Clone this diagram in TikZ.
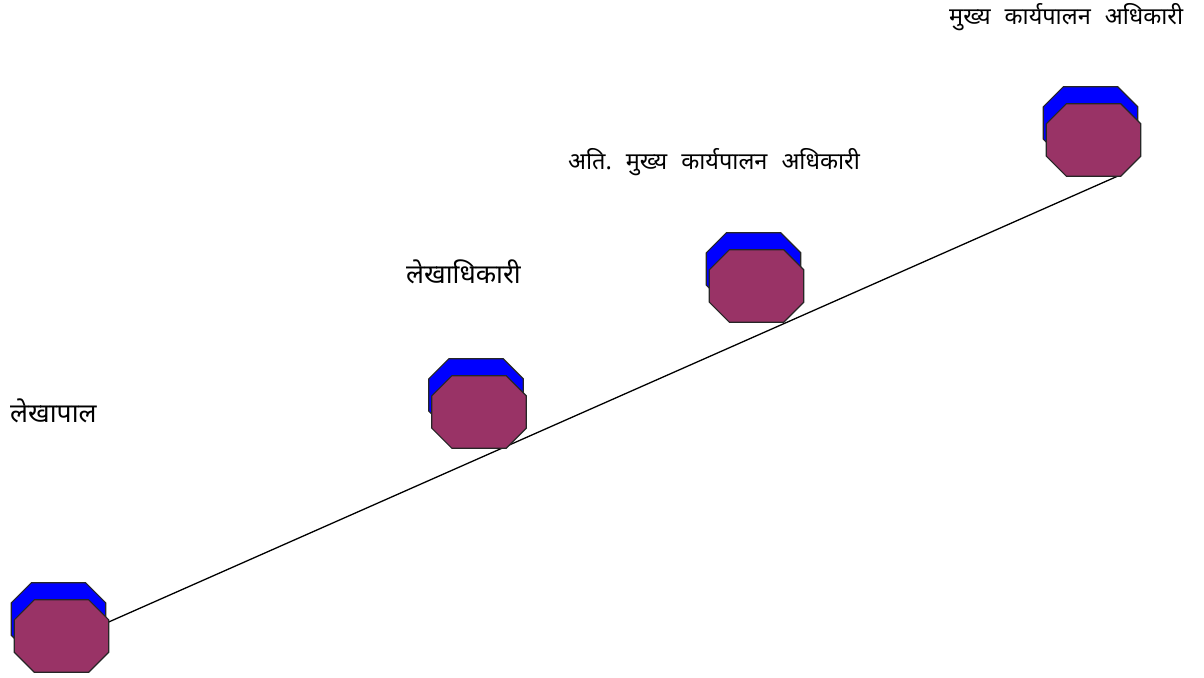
\documentclass[tikz,border=0pt]{standalone}
\usepackage{fontspec}
\newfontfamily\devfont[Script=Devanagari]{Noto Sans}
\usepackage{xcolor}
\usetikzlibrary{positioning}
\definecolor{octblue}{RGB}{0,0,255}
\definecolor{octred}{RGB}{153,51,102}
\newcommand{\gap}{\hspace{14pt}}

\begin{document}
\begin{tikzpicture}[
  x=1pt, y=-1pt,
  font=\devfont\fontsize{26.5}{30}\selectfont,
  oct/.style={minimum width=94pt, minimum height=72pt, inner sep=0pt},
  post/.style={anchor=base west, inner sep=0pt},
  longpost/.style={post, font=\devfont\fontsize{23.5}{28}\selectfont}
]
\useasboundingbox (0,0) rectangle (1204,677);

% the four steps, blue copy behind the maroon one
\node[oct] (b1) at (58.5,619) {};
\node[oct] (r1) at (61.5,636) {};
\node[oct] (b2) at (476,395) {};
\node[oct] (r2) at (479,412) {};
\node[oct] (b3) at (753.5,269) {};
\node[oct] (r3) at (756.5,286) {};
\node[oct] (b4) at (1090.5,123) {};
\node[oct] (r4) at (1093.5,140) {};

% post names
\node[post] (p1) at (10,422)  {लेखापाल};
\node[post] (p2) at (406,283) {लेखाधिकारी};
\node[longpost] (p3) at (568,169) {अति.\gap मुख्य\gap कार्यपालन\gap अधिकारी};
\node[longpost] (p4) at (949,25)  {मुख्य\gap कार्यपालन\gap अधिकारी};

\draw[line width=1.3pt] ([yshift=14pt]r1.east) -- ([xshift=24pt]r4.south);

\foreach \n/\c in {b1/octblue, r1/octred, b2/octblue, r2/octred,
                   b3/octblue, r3/octred, b4/octblue, r4/octred}
  \draw[draw=black!85, line width=1.2pt, fill=\c]
    ([xshift=20pt]\n.north west) -- ([xshift=-20pt]\n.north east)
    -- ([yshift=-20pt]\n.north east) -- ([yshift=20pt]\n.south east)
    -- ([xshift=-20pt]\n.south east) -- ([xshift=20pt]\n.south west)
    -- ([yshift=20pt]\n.south west) -- ([yshift=-20pt]\n.north west) -- cycle;
\end{tikzpicture}
\end{document}
